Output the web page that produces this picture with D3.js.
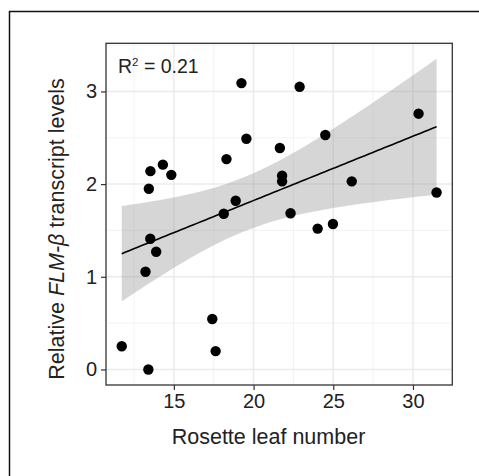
<!DOCTYPE html>
<html>
<head>
<meta charset="utf-8">
<script src="https://cdn.jsdelivr.net/npm/d3@7"></script>
<style>
  body { margin: 0; background: #fff; }
  svg { display: block; font-family: "Liberation Sans", Arial, sans-serif; }
</style>
</head>
<body>
<script>
// rosette leaf number per accession
const leafNumber = [11.73, 13.40, 13.22, 13.52, 13.89, 13.43, 13.53, 14.31, 14.84,
  17.41, 17.62, 18.13, 18.30, 18.88, 19.24, 19.55, 21.65, 21.79, 21.79, 22.32,
  22.89, 24.02, 24.50, 24.98, 26.16, 30.35, 31.48];
// relative FLM-beta transcript level
const flmLevel = [0.25, 0.00, 1.054, 1.41, 1.27, 1.95, 2.14, 2.21, 2.10,
  0.545, 0.198, 1.68, 2.27, 1.82, 3.09, 2.49, 2.39, 2.09, 2.03, 1.686,
  3.05, 1.52, 2.53, 1.57, 2.03, 2.76, 1.91];
const xTicks = [15, 20, 25, 30];
const yTicks = [0, 1, 2, 3];
const r2Label = "0.21";

const width = 479, height = 476;
const margin = {top: 43.3, right: 26.7, bottom: 91, left: 106};

const data = leafNumber.map((x, i) => ({x, y: flmLevel[i]}));

// linear fit with 95% confidence band (like geom_smooth(method = "lm"))
const n = data.length;
const mx = d3.mean(data, d => d.x), my = d3.mean(data, d => d.y);
const sxx = d3.sum(data, d => (d.x - mx) ** 2);
const sxy = d3.sum(data, d => (d.x - mx) * (d.y - my));
const slope = sxy / sxx, intercept = my - slope * mx;
const rss = d3.sum(data, d => (d.y - intercept - slope * d.x) ** 2);
const sigma = Math.sqrt(rss / (n - 2));
const tq = 2.0595; // qt(0.975, 25)
const [xMin, xMax] = d3.extent(data, d => d.x);
const band = d3.range(80).map(i => {
  const x = xMin + (xMax - xMin) * i / 79;
  const fit = intercept + slope * x;
  const se = sigma * Math.sqrt(1 / n + (x - mx) ** 2 / sxx);
  return {x, fit, lo: fit - tq * se, hi: fit + tq * se};
});

// ggplot-style 5% expansion
const expand = ([a, b]) => [a - (b - a) * 0.05, b + (b - a) * 0.05];
const yLo = Math.min(d3.min(data, d => d.y), d3.min(band, d => d.lo));
const yHi = Math.max(d3.max(data, d => d.y), d3.max(band, d => d.hi));

const x = d3.scaleLinear().domain(expand([xMin, xMax]))
  .range([margin.left, width - margin.right]);
const y = d3.scaleLinear().domain(expand([yLo, yHi]))
  .range([height - margin.bottom, margin.top]);

const svg = d3.select("body").append("svg")
  .attr("width", width).attr("height", height);

// figure frame (top and left edges only)
svg.append("path")
  .attr("d", "M9.5,476V11.5H479")
  .attr("fill", "none").attr("stroke", "#111").attr("stroke-width", 1.5);

// grid
const grid = svg.append("g").attr("fill", "none");
const xMinor = [12.5, 17.5, 22.5, 27.5, 32.5].filter(v => v < x.domain()[1]);
const yMinor = [0.5, 1.5, 2.5, 3.5].filter(v => v < y.domain()[1]);
grid.selectAll(".vmin").data(xMinor).join("line")
  .attr("x1", d => x(d)).attr("x2", d => x(d))
  .attr("y1", y.range()[0]).attr("y2", y.range()[1])
  .attr("stroke", "#f0f0f0").attr("stroke-width", 0.8);
grid.selectAll(".hmin").data(yMinor).join("line")
  .attr("y1", d => y(d)).attr("y2", d => y(d))
  .attr("x1", x.range()[0]).attr("x2", x.range()[1])
  .attr("stroke", "#f0f0f0").attr("stroke-width", 0.8);
grid.selectAll(".vmaj").data(xTicks).join("line")
  .attr("x1", d => x(d)).attr("x2", d => x(d))
  .attr("y1", y.range()[0]).attr("y2", y.range()[1])
  .attr("stroke", "#ebebeb").attr("stroke-width", 1.5);
grid.selectAll(".hmaj").data(yTicks).join("line")
  .attr("y1", d => y(d)).attr("y2", d => y(d))
  .attr("x1", x.range()[0]).attr("x2", x.range()[1])
  .attr("stroke", "#ebebeb").attr("stroke-width", 1.5);

// confidence ribbon
svg.append("path")
  .datum(band)
  .attr("fill", "#999999").attr("fill-opacity", 0.4)
  .attr("d", d3.area().x(d => x(d.x)).y0(d => y(d.lo)).y1(d => y(d.hi)));

// points
svg.append("g").selectAll("circle").data(data).join("circle")
  .attr("cx", d => x(d.x)).attr("cy", d => y(d.y)).attr("r", 5.2)
  .attr("fill", "#000");

// fitted line
svg.append("path")
  .datum(band)
  .attr("fill", "none").attr("stroke", "#000").attr("stroke-width", 1.6)
  .attr("d", d3.line().x(d => x(d.x)).y(d => y(d.fit)));

// panel border
svg.append("rect")
  .attr("x", x.range()[0]).attr("y", y.range()[1])
  .attr("width", x.range()[1] - x.range()[0])
  .attr("height", y.range()[0] - y.range()[1])
  .attr("fill", "none").attr("stroke", "#333").attr("stroke-width", 1.3);

// axes
const xAxis = svg.append("g")
  .attr("transform", `translate(0,${y.range()[0]})`)
  .call(d3.axisBottom(x).tickValues(xTicks).tickFormat(d3.format("d")).tickSize(5).tickPadding(4));
const yAxis = svg.append("g")
  .attr("transform", `translate(${x.range()[0]},0)`)
  .call(d3.axisLeft(y).tickValues(yTicks).tickFormat(d3.format("d")).tickSize(5).tickPadding(4));
[xAxis, yAxis].forEach(g => {
  g.select(".domain").remove();
  g.selectAll(".tick line").attr("stroke", "#333").attr("stroke-width", 1.2);
  g.selectAll(".tick text").attr("fill", "#222")
    .attr("font-size", 20).attr("font-family", "Liberation Sans, Arial, sans-serif");
});

// axis titles
svg.append("text")
  .attr("x", 268.5).attr("y", 444)
  .attr("text-anchor", "middle").attr("font-size", 21.5).attr("fill", "#222")
  .text("Rosette leaf number");

const yTitle = svg.append("text")
  .attr("transform", "translate(64,229) rotate(-90)")
  .attr("text-anchor", "middle").attr("font-size", 21.5).attr("fill", "#222");
yTitle.append("tspan").text("Relative ");
yTitle.append("tspan").attr("font-style", "italic").text("FLM-\u03B2");
yTitle.append("tspan").text(" transcript levels");

// R squared annotation
const r2 = svg.append("text")
  .attr("x", 118).attr("y", 73.3).attr("font-size", 19.5).attr("fill", "#222");
r2.append("tspan").text("R");
r2.append("tspan").attr("font-size", 11.5).attr("dy", -7.5).text("2");
r2.append("tspan").attr("dy", 7.5).text(" = " + r2Label);
</script>
</body>
</html>
